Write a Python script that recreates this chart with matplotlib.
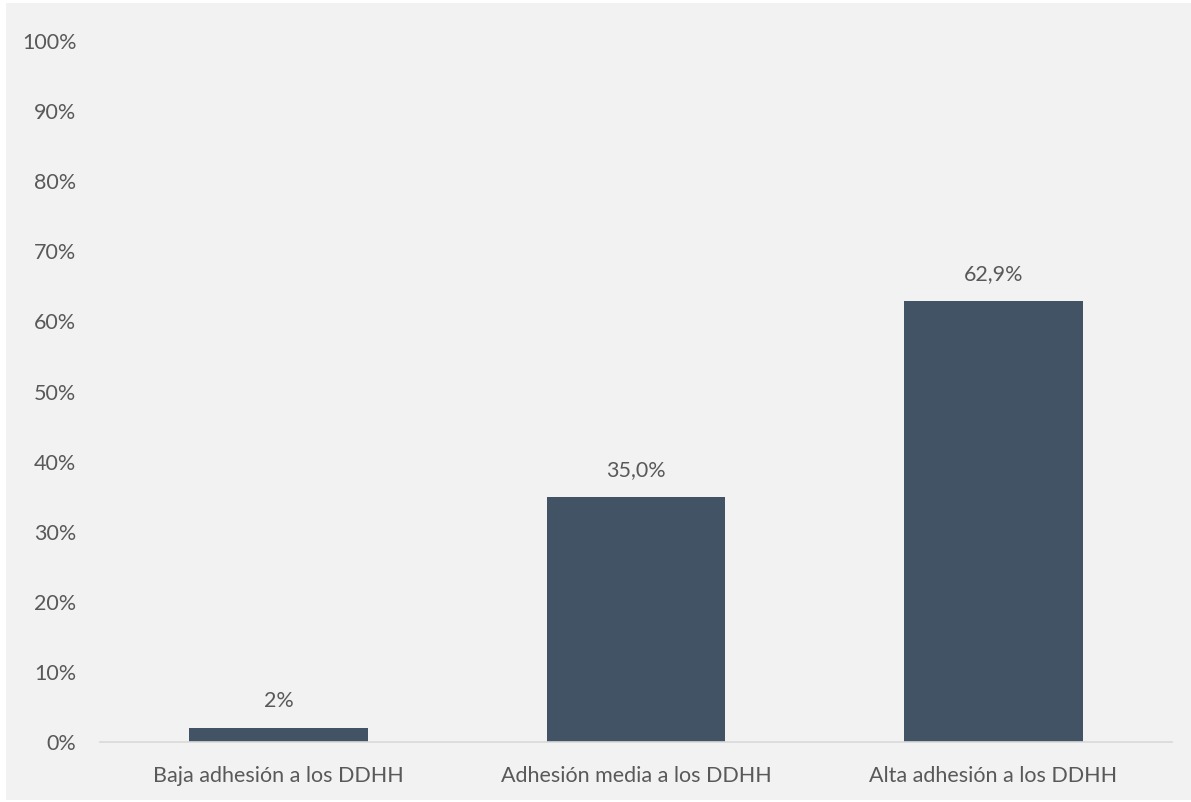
import matplotlib.pyplot as plt
from matplotlib.patches import Rectangle

categorias = ['Baja adhesión a los DDHH', 'Adhesión media a los DDHH', 'Alta adhesión a los DDHH']
valores = [2.0, 35.0, 62.9]
etiquetas = ['2%', '35,0%', '62,9%']
ticks_y = [0, 10, 20, 30, 40, 50, 60, 70, 80, 90, 100]

plt.rcParams['font.family'] = ['Lato', 'DejaVu Sans']
texto = '#595959'
fondo = '#F2F2F2'

fig = plt.figure(figsize=(11.91, 8.02), dpi=100, facecolor='white')
fig.patches.append(Rectangle((6 / 1191, 2 / 802), 1 - 6 / 1191, 1 - 5 / 802,
                             transform=fig.transFigure, facecolor=fondo,
                             edgecolor='none', zorder=-10))
ax = fig.add_axes([100 / 1191, 1 - 742 / 802, 1072 / 1191, 701 / 802])
ax.patch.set_visible(False)

x = range(len(categorias))
ax.bar(x, valores, width=0.5, color='#415364', zorder=2)
for xi, v, t in zip(x, valores, etiquetas):
    ax.text(xi, v + 2.4, t, ha='center', va='bottom', fontsize=15.5, color=texto)

ax.set_xlim(-0.5, 2.5)
ax.set_ylim(0, 100)
ax.set_yticks(ticks_y)
ax.set_yticklabels([f'{t}%' for t in ticks_y])
ax.set_xticks(list(x))
ax.set_xticklabels(categorias)
ax.tick_params(axis='both', length=0, labelsize=15.5, labelcolor=texto)
ax.tick_params(axis='y', pad=17)
ax.tick_params(axis='x', pad=17)

for s in ['top', 'right', 'left']:
    ax.spines[s].set_visible(False)
ax.spines['bottom'].set_color('#D9D9D9')
ax.spines['bottom'].set_linewidth(1.2)

fig.savefig('out.png', dpi=100, facecolor='white')
